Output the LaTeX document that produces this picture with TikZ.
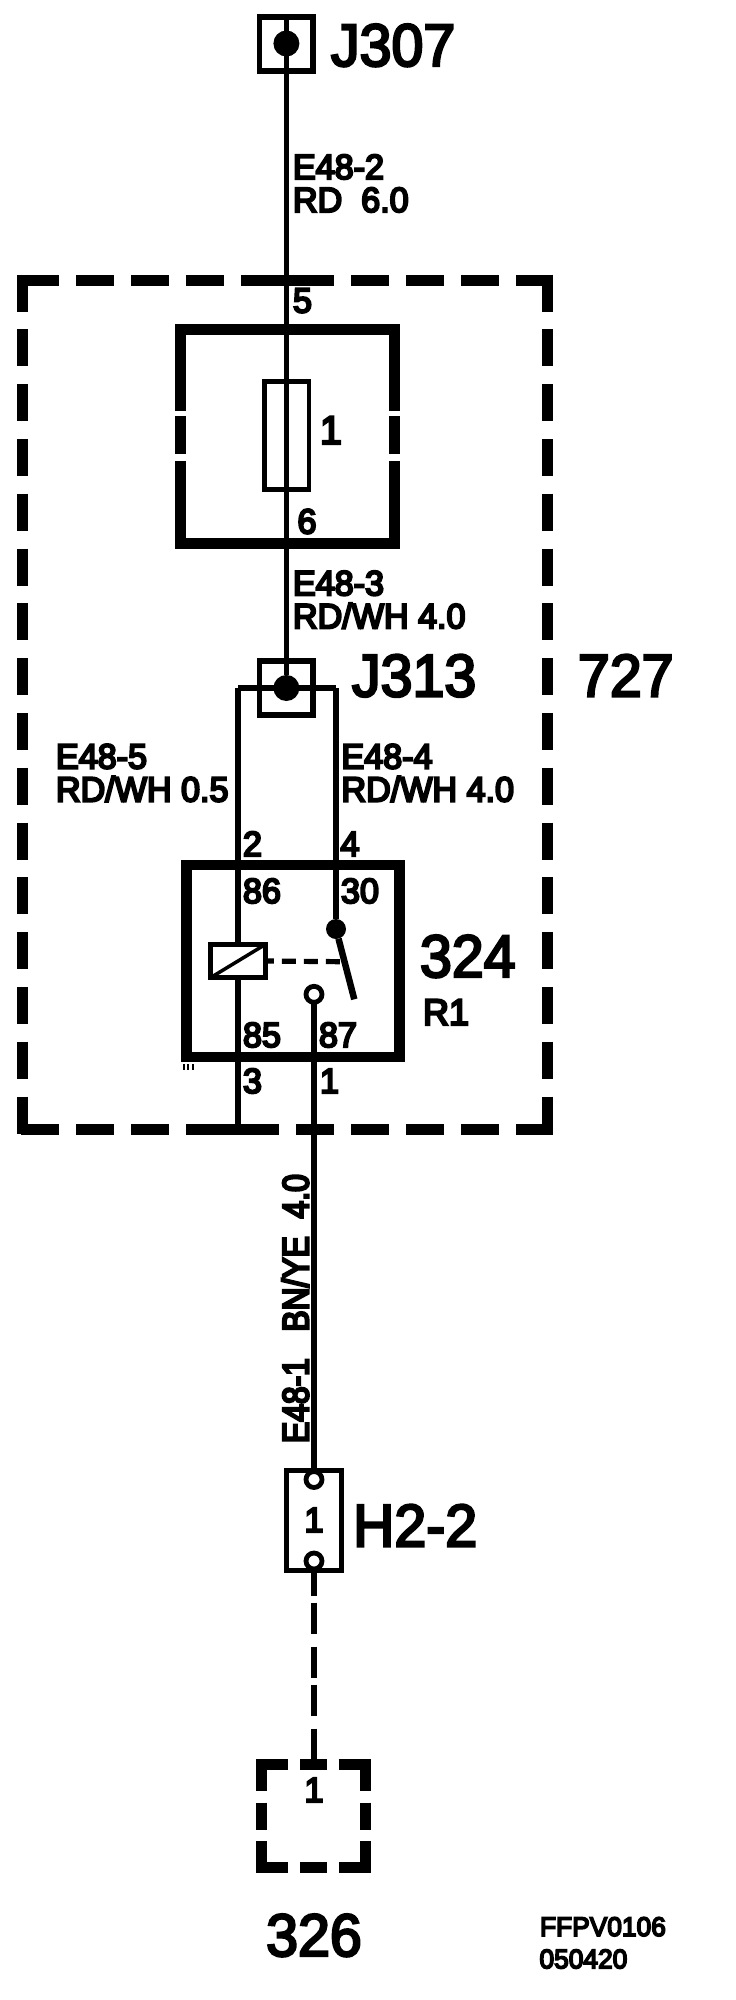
\documentclass[tikz,border=0pt]{standalone}
\usepackage{fontspec}
\setmainfont{Liberation Sans}[FakeBold=4,FakeStretch=0.955]
\newfontfamily\wirefont{Liberation Sans}[FakeBold=6,FakeStretch=0.975]
\newfontfamily\upfont{Liberation Sans}[FakeBold=6,FakeStretch=0.86]
\begin{document}
\begin{tikzpicture}[
	x=1pt, y=-1pt,
	every node/.style={inner sep=0pt, outer sep=0pt},
	wire/.style={line width=5.2pt},
	heavy/.style={line width=10.5pt},
	termbox/.style={draw, line width=5.5pt, minimum width=53.6pt, minimum height=54pt},
	blackdot/.style={circle, fill=black, minimum size=#1},
	opendot/.style={circle, draw, fill=white, line width=4.8pt, minimum size=16pt},
	bigtext/.style={anchor=base west, font=\fontsize{60}{60}\selectfont},
	pintext/.style={anchor=base west, font=\wirefont\fontsize{35}{33}\selectfont},
	wiretext/.style={anchor=base west, align=left, font=\wirefont\fontsize{35}{33}\selectfont},
	groupedge/.style={heavy, line width=11pt, dash pattern=on 37pt off 17.8pt},
	connedge/.style={heavy, line width=11pt, dash pattern=on 32pt off 11.7pt on 27pt off 11.7pt on 32pt off 100pt},
]
	\useasboundingbox (0,0) rectangle (736,2000);

	\node [termbox] (j307) at (286.4,44) {};
	\node [blackdot=26pt] (j307dot) at (286.4,43.5) {};
	\node [termbox] (j313) at (286.4,688) {};
	\node [blackdot=26pt] (j313dot) at (286.4,688) {};
	\node [bigtext] (j307text) at (331,66) {J307};
	\node [bigtext] (j313text) at (352,696.4) {J313};
	\node [bigtext] (grouptext) at (578,696.4) {727};

	\draw [wire] (j307.north) -- (j313dot);
	\node [wiretext] (e482) at (293,212) {E48-2\\RD\ \ 6.0};
	\node [pintext] (pin5) at (293,312.5) {5};

	\draw [groupedge, dash pattern=on 37.7pt off 17.3pt] (21,280) -- (552.6,280);
	\draw [groupedge, dash pattern=on 37.7pt off 17.3pt] (21,1129) -- (552.6,1129);
	\draw [groupedge] (22,274.5) -- (22,1134.4);
	\draw [groupedge] (547.4,274.5) -- (547.4,1134.4);
	\draw [heavy, line width=11pt] (277,280) -- (298,280);
	\draw [heavy, line width=11pt] (222,1129) -- (243,1129);

	\draw [heavy, line width=11pt] (180.3,411) -- (180.3,329.2) -- (394,329.2) -- (394,411);
	\draw [heavy, line width=11pt] (180.3,416) -- (180.3,454);
	\draw [heavy, line width=11pt] (394,416) -- (394,454);
	\draw [heavy, line width=11pt] (180.3,461) -- (180.3,543) -- (394,543) -- (394,461);
	\node [draw, line width=4.5pt, minimum width=44.4pt, minimum height=108pt] (fuse) at (286.8,435.7) {};
	\node [anchor=base west, font=\wirefont\fontsize{40}{40}\selectfont] (fusetext) at (320,444) {1};
	\node [pintext] (pin6) at (297.5,533.5) {6};
	\node [wiretext] (e483) at (293,628.3) {E48-3\\RD/WH 4.0};

	\coordinate (loopl) at (238,688);
	\coordinate (loopr) at (336,688);
	\draw [wire] (loopl) -- (loopr);
	\node [wiretext] (e485) at (56,801.5) {E48-5\\RD/WH\ 0.5};
	\node [wiretext] (e484) at (341.5,801.5) {E48-4\\RD/WH\ 4.0};
	\node [pintext] (pin2) at (243,856) {2};
	\node [pintext] (pin4) at (340.5,856) {4};

	\node [draw, heavy, minimum width=213.3pt, minimum height=192pt] (relay) at (293,961) {};
	\node [draw, line width=4.7pt, minimum width=54.4pt, minimum height=33pt] (coil) at (238,961) {};
	\draw [line width=3.5pt] (coil.south west) -- (coil.north east);
	\node [blackdot=20pt] (contact) at (336,929) {};
	\node [opendot] (open87) at (314,994.3) {};
	\coordinate (armtip) at (354.3,999.3);
	\coordinate (armmid) at (342,961.7);
	\coordinate (leftend) at (238,1129);
	\draw [wire] (loopl) -- (coil.north);
	\draw [wire] (coil.south) -- (leftend);
	\draw [wire] (loopr) -- (contact);
	\draw [line width=6.5pt] (contact) -- (armtip);
	\draw [line width=5.2pt, dash pattern=on 14pt off 8pt, dash phase=5.3pt] (coil.east) -- (armmid);
	\draw [line width=1.5pt] (184,1064) -- (184,1070) (188,1064) -- (188,1070) (193,1064) -- (193,1070);

	\node [pintext] (pin86) at (243,903) {86};
	\node [pintext] (pin30) at (341,903) {30};
	\node [pintext] (pin85) at (243,1047) {85};
	\node [pintext] (pin87) at (319,1047) {87};
	\node [pintext] (pin3) at (243,1093) {3};
	\node [pintext] (pin1) at (320,1093) {1};
	\node [bigtext] (relaytext) at (420,977) {324};
	\node [anchor=base west, font=\wirefont\fontsize{37}{37}\selectfont] (relayname) at (423,1025) {R1};

	\node [draw, line width=4.7pt, minimum width=54.8pt, minimum height=100pt] (h22) at (314.2,1520.5) {};
	\node [opendot] (h22top) at (314,1479.5) {};
	\node [opendot] (h22bot) at (314,1561) {};
	\draw [wire] (open87) -- (h22top);
	\node [anchor=base, font=\wirefont\fontsize{35}{35}\selectfont] (h22pin) at (314,1532) {1};
	\node [bigtext] (h22text) at (353,1546.4) {H2-2};
	\node [anchor=base west, rotate=90, font=\upfont\fontsize{37}{37}\selectfont] (e481) at (308.5,1443) {E48-1\ \ \ BN/YE\ \ 4.0};

	\coordinate (conntop) at (314,1760);
	\draw [wire, dash pattern=on 31pt off 7pt on 31pt off 13pt, dash phase=6pt] (h22.south -| h22bot) -- (conntop);
	\draw [connedge] (256.3,1764.5) -- (371,1764.5);
	\draw [connedge] (256.3,1867.5) -- (371,1867.5);
	\draw [connedge] (261.8,1759) -- (261.8,1873);
	\draw [connedge] (365.5,1759) -- (365.5,1873);
	\node [anchor=base, font=\wirefont\fontsize{35}{35}\selectfont] (connpin) at (314,1802) {1};
	\node [anchor=base, font=\fontsize{60}{60}\selectfont] (conntext) at (314,1956) {326};

	\node [pintext, font=\wirefont\fontsize{27}{27}\selectfont] (code) at (540,1936) {FFPV0106};
	\node [pintext, font=\wirefont\fontsize{27}{27}\selectfont] (date) at (539.5,1968.3) {050420};
\end{tikzpicture}
\end{document}
